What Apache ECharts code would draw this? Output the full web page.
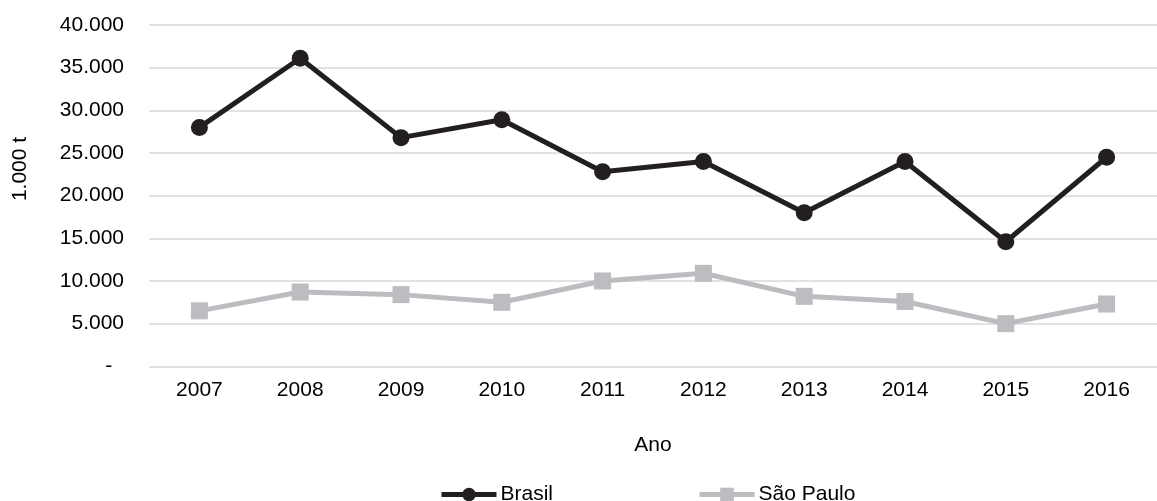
<!DOCTYPE html>
<html>
<head>
<meta charset="utf-8">
<script src="https://cdn.jsdelivr.net/npm/echarts@6/dist/echarts.min.js"></script>
<style>
  html, body { margin: 0; padding: 0; background: #fff; }
  #chart { width: 1157px; height: 501px; }
</style>
</head>
<body>
<div id="chart"></div>
<script>
// Produção anual (1.000 t), 2007–2016
const years = ['2007', '2008', '2009', '2010', '2011', '2012', '2013', '2014', '2015', '2016'];
const brasil = [28000, 36100, 26800, 28900, 22800, 24000, 18000, 24000, 14600, 24500];
const saoPaulo = [6500, 8700, 8400, 7500, 10000, 10900, 8200, 7600, 5000, 7300];
const yTickLabels = ['-  ', '5.000', '10.000', '15.000', '20.000', '25.000', '30.000', '35.000', '40.000'];
const yStep = 5000;

const FONT = '"Liberation Sans", Arial, Helvetica, sans-serif';
const FS = 21;
const chart = echarts.init(document.getElementById('chart'), null, { renderer: 'canvas' });

chart.setOption({
  animation: false,
  backgroundColor: '#ffffff',
  textStyle: { fontFamily: FONT, color: '#000' },
  grid: { left: 149, top: 25, width: 1018.5, height: 341.3, containLabel: false },
  graphic: [{
    type: 'text',
    x: 20,
    y: 169,
    rotation: Math.PI / 2,
    style: {
      text: '1.000 t',
      font: FS + 'px ' + FONT,
      fill: '#000',
      align: 'center',
      verticalAlign: 'middle'
    }
  }],
  legend: {
    data: ['Brasil', 'São Paulo'],
    left: 434,
    top: 479,
    itemWidth: 55,
    itemHeight: 17,
    itemGap: 144,
    lineStyle: { width: 5 },
    textStyle: { fontFamily: FONT, fontSize: FS, color: '#000', padding: [0, 0, 0, -1] }
  },
  xAxis: {
    type: 'category',
    data: years,
    boundaryGap: true,
    name: 'Ano',
    nameLocation: 'middle',
    nameGap: 68,
    nameTextStyle: { fontFamily: FONT, fontSize: FS, color: '#000' },
    axisLine: { show: false },
    axisTick: { show: false },
    axisLabel: { fontFamily: FONT, fontSize: FS, color: '#000', margin: 13 }
  },
  yAxis: {
    type: 'value',
    min: 0,
    max: 40000,
    interval: yStep,
    axisLine: { show: false },
    axisTick: { show: false },
    splitLine: { lineStyle: { color: '#d9d9d9', width: 1.5 } },
    axisLabel: {
      fontFamily: FONT,
      fontSize: FS,
      color: '#000',
      margin: 25,
      formatter: v => yTickLabels[Math.round(v / yStep)]
    }
  },
  series: [
    {
      name: 'Brasil',
      type: 'line',
      data: brasil,
      symbol: 'circle',
      symbolSize: 17,
      lineStyle: { color: '#231f20', width: 5 },
      itemStyle: { color: '#231f20' },
      z: 3
    },
    {
      name: 'São Paulo',
      type: 'line',
      data: saoPaulo,
      symbol: 'rect',
      symbolSize: 17,
      lineStyle: { color: '#bcbdc0', width: 5 },
      itemStyle: { color: '#bcbdc0' },
      z: 2
    }
  ]
});
</script>
</body>
</html>
